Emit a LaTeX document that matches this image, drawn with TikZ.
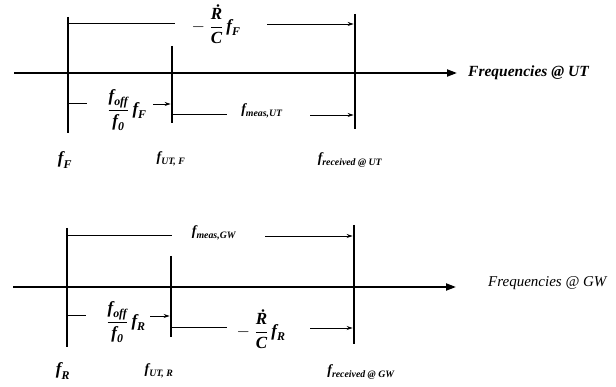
\documentclass[tikz,border=0pt]{standalone}
\usepackage{amsmath}
\usepackage{fontspec}
\setmainfont{Liberation Serif}
\usetikzlibrary{arrows.meta, positioning}
\newcommand{\vf}[1]{\text{\bfseries\itshape #1}}

\begin{document}
\begin{tikzpicture}[x=1pt, y=-1pt, font=\fontsize{14}{16}\selectfont,
    axis/.style={line width=2pt, -{Triangle[length=10pt, width=7pt]}},
    bar/.style={line width=2.6pt},
    span/.style={line width=1pt},
    spanarrow/.style={line width=0.8pt, -{Stealth[length=6pt, width=4pt]}, shorten >=1.3pt},
    tag/.style={inner sep=0pt},
    fractag/.style={inner sep=0pt, font=\fontsize{17}{20}\selectfont}]
  \useasboundingbox (0,0) rectangle (616,387);

  % ---------- frequencies at UT ----------
  \coordinate (F) at (68,73);
  \coordinate (UTF) at (172,73);
  \coordinate (RUT) at (355,73);
  \draw[axis] (14,73) -- (457,73) coordinate (endUT);
  \node[tag, right=11pt of endUT, font=\fontsize{15.5}{17}\selectfont\bfseries\itshape] (axUT) {Frequencies @ UT};

  \draw[bar] (68,17) -- (68,133);
  \draw[bar] (172,46) -- (172,123);
  \draw[bar] (355,14) -- (355,129);

  % spans
  \node[fractag] (rcF) at (216,24) {$-\;\dfrac{\vf{Ṙ}}{\vf{C}}\,\vf{f}_{\vf{F}}$};
  \coordinate (rcFa) at (175,24);
  \coordinate (rcFb) at (267,24);
  \draw[span] (F |- rcFa) -- (rcFa);
  \draw[spanarrow] (rcFb) -- (RUT |- rcFb);

  \node[fractag] (offF) at (127,110) {$\dfrac{\vf{f}_{\vf{off}}}{\vf{f}_{\vf{0}}}\,\vf{f}_{\vf{F}}$};
  \coordinate (offFa) at (87,104);
  \coordinate (offFb) at (153,104);
  \draw[span] (F |- offFa) -- (offFa);
  \draw[spanarrow] (offFb) -- (UTF |- offFb);

  \node[tag] (measUT) at (262,111) {$\vf{f}_{\vf{meas,UT}}$};
  \coordinate (measUTa) at (227,115);
  \coordinate (measUTb) at (310,115);
  \draw[span] (UTF |- measUTa) -- (measUTa);
  \draw[spanarrow] (measUTb) -- (RUT |- measUTb);

  % tick labels
  \node[tag, font=\fontsize{17}{19}\selectfont] (fF) at (65,160) {$\vf{f}_{\vf{F}}$};
  \node[tag] (fUTF) at (171,159) {$\vf{f}_{\vf{UT, F}}$};
  \node[tag] (fRUT) at (350,160) {$\vf{f}_{\vf{received @ UT}}$};

  % ---------- frequencies at GW ----------
  \coordinate (R) at (67,287);
  \coordinate (UTR) at (171,287);
  \coordinate (RGW) at (354,287);
  \draw[axis] (13,287) -- (456,287) coordinate (endGW);
  \node[tag, right=32pt of endGW, yshift=4pt, font=\fontsize{15}{17}\selectfont\itshape] (axGW) {Frequencies @ GW};

  \draw[bar] (67,228) -- (67,347);
  \draw[bar] (171,256) -- (171,337);
  \draw[bar] (354,225) -- (354,344);

  % spans
  \node[tag] (measGW) at (214,233) {$\vf{f}_{\vf{meas,GW}}$};
  \coordinate (measGWa) at (172,236);
  \coordinate (measGWb) at (265,236);
  \draw[span] (R |- measGWa) -- (measGWa);
  \draw[spanarrow] (measGWb) -- (RGW |- measGWb);

  \node[fractag] (offR) at (126,322) {$\dfrac{\vf{f}_{\vf{off}}}{\vf{f}_{\vf{0}}}\,\vf{f}_{\vf{R}}$};
  \coordinate (offRa) at (86,316);
  \coordinate (offRb) at (150,316);
  \draw[span] (R |- offRa) -- (offRa);
  \draw[spanarrow] (offRb) -- (UTR |- offRb);

  \node[fractag] (rcR) at (261,329) {$-\;\dfrac{\vf{Ṙ}}{\vf{C}}\,\vf{f}_{\vf{R}}$};
  \coordinate (rcRa) at (227,328);
  \coordinate (rcRb) at (310,328);
  \draw[span] (UTR |- rcRa) -- (rcRa);
  \draw[spanarrow] (rcRb) -- (RGW |- rcRb);

  % tick labels
  \node[tag, font=\fontsize{17}{19}\selectfont] (fR) at (63,371) {$\vf{f}_{\vf{R}}$};
  \node[tag] (fUTR) at (159,371) {$\vf{f}_{\vf{UT, R}}$};
  \node[tag] (fRGW) at (361,372) {$\vf{f}_{\vf{received @ GW}}$};
\end{tikzpicture}
\end{document}
